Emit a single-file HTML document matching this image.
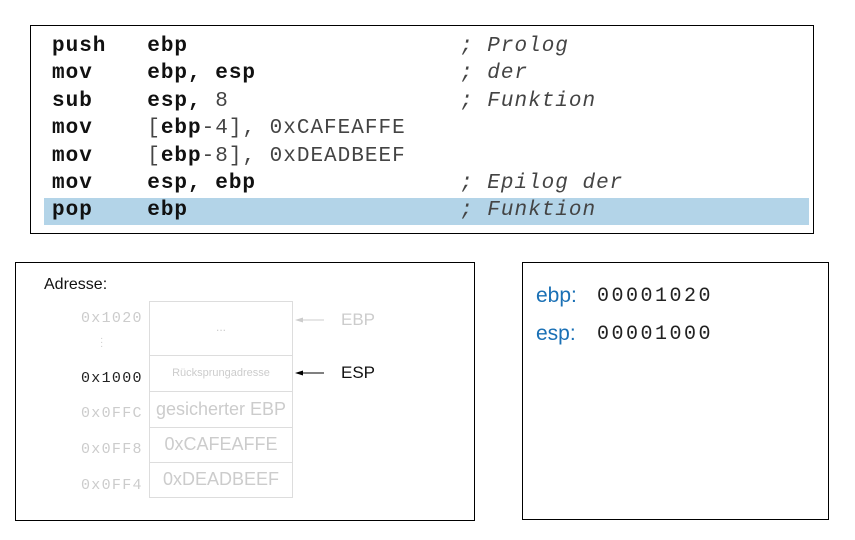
<!DOCTYPE html>
<html><head><meta charset="utf-8"><style>
body{margin:0;width:855px;height:540px;background:#fff;position:relative;overflow:hidden;font-family:"Liberation Sans",sans-serif}
.a{position:absolute;white-space:pre}
.box{position:absolute;border:1px solid #000;box-sizing:border-box}
.code{font-family:"Liberation Mono",monospace;font-size:21px;letter-spacing:1px;color:#444;line-height:27.4px}
.code b{color:#111}
.code i{font-style:italic}
.cell{position:absolute;left:149px;width:144px;border:1px solid #ddd;box-sizing:border-box;color:#ccc;text-align:center}
.addr{position:absolute;left:81px;font-family:"Liberation Mono",monospace;font-size:15px;letter-spacing:1.3px;color:#ccc}
</style></head><body>
<div class="box" style="left:30px;top:25px;width:784px;height:209px"></div>
<div class="a" style="left:44px;top:198px;width:765px;height:27px;background:#b3d4e8"></div>
<div class="a code" style="left:52px;top:33px"><b>push   ebp</b>                    <i>; Prolog</i>
<b>mov    ebp, esp</b>               <i>; der</i>
<b>sub    esp, </b>8                 <i>; Funktion</i>
<b>mov</b>    [<b>ebp</b>-4], 0xCAFEAFFE
<b>mov</b>    [<b>ebp</b>-8], 0xDEADBEEF
<b>mov    esp, ebp</b>               <i>; Epilog der</i>
<b>pop    ebp</b>                    <i>; Funktion</i></div>

<div class="box" style="left:15px;top:262px;width:460px;height:259px"></div>
<div class="a" style="left:44px;top:276px;font-size:16px;color:#111">Adresse:</div>
<div class="cell" style="top:301px;height:55px;line-height:50px;font-size:12px">...</div>
<div class="cell" style="top:355px;height:37px;line-height:34px;font-size:11px">Rücksprungadresse</div>
<div class="cell" style="top:391px;height:37px;line-height:34px;font-size:18px">gesicherter EBP</div>
<div class="cell" style="top:427px;height:36px;line-height:33px;font-size:18px">0xCAFEAFFE</div>
<div class="cell" style="top:462px;height:36px;line-height:33px;font-size:18px">0xDEADBEEF</div>
<div class="addr" style="top:310px">0x1020</div>
<div class="a" style="left:100px;top:337px;font-size:10px;color:#ccc;line-height:4px">·<br>·<br>·</div>
<div class="addr" style="top:370px;color:#222">0x1000</div>
<div class="addr" style="top:405px">0x0FFC</div>
<div class="addr" style="top:441px">0x0FF8</div>
<div class="addr" style="top:477px">0x0FF4</div>
<svg class="a" style="left:290px;top:310px" width="40" height="70">
<line x1="10" y1="10" x2="34" y2="10" stroke="#ccc" stroke-width="1"/><polygon points="5,10 13,7.5 13,12.5" fill="#ccc"/>
<line x1="10" y1="63" x2="34" y2="63" stroke="#000" stroke-width="1"/><polygon points="5,63 13,60.5 13,65.5" fill="#000"/>
</svg>
<div class="a" style="left:341px;top:310px;font-size:17px;color:#ccc">EBP</div>
<div class="a" style="left:341px;top:363px;font-size:17px;color:#111">ESP</div>

<div class="box" style="left:522px;top:262px;width:307px;height:258px"></div>
<div class="a" style="left:536px;top:284px;font-size:21px;color:#1a70b5">ebp:</div>
<div class="a" style="left:597px;top:285px;font-family:'Liberation Mono',monospace;font-size:20px;letter-spacing:2.5px;color:#222">00001020</div>
<div class="a" style="left:536px;top:322px;font-size:21px;color:#1a70b5">esp:</div>
<div class="a" style="left:597px;top:323px;font-family:'Liberation Mono',monospace;font-size:20px;letter-spacing:2.5px;color:#222">00001000</div>
</body></html>
